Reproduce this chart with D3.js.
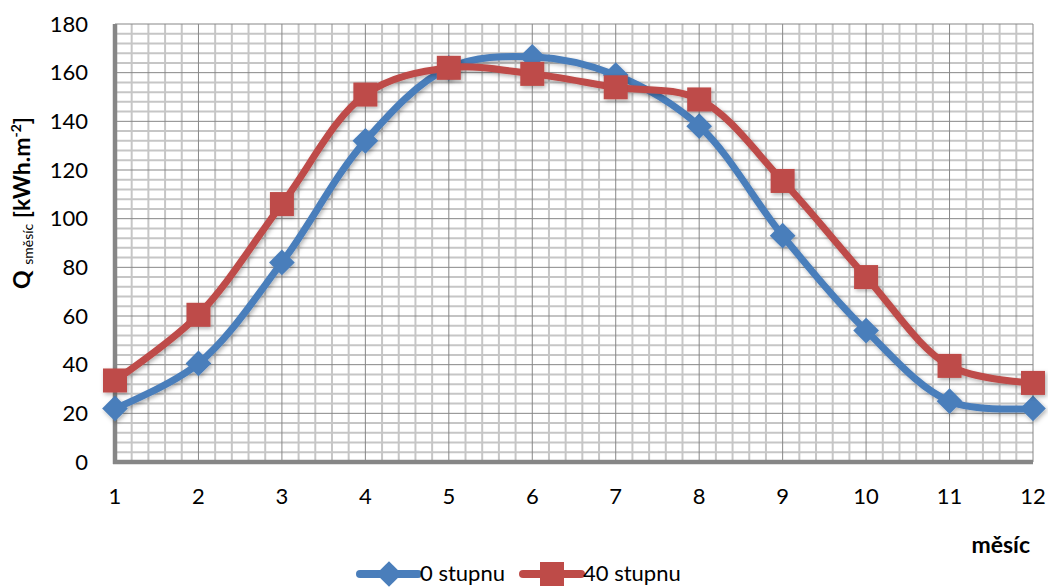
<!DOCTYPE html>
<html>
<head>
<meta charset="utf-8">
<script src="https://cdn.jsdelivr.net/npm/d3@7"></script>
<style>
  body { margin: 0; background: #fff; }
  text { font-family: Lato, "Open Sans", sans-serif; fill: #000; }
</style>
</head>
<body>
<script>
var months = [1, 2, 3, 4, 5, 6, 7, 8, 9, 10, 11, 12];
var stupnu0 = [22, 40.5, 82, 132, 162, 166.5, 159, 138, 93, 54, 25, 22];
var stupnu40 = [33.5, 60.5, 106, 151, 162, 159.5, 154, 149, 115.5, 76, 39.5, 32.5];
var yTicks = [0, 20, 40, 60, 80, 100, 120, 140, 160, 180];

var width = 1048, height = 587;
var svg = d3.select("body").append("svg")
  .attr("width", width)
  .attr("height", height);

var defs = svg.append("defs");
var f = defs.append("filter").attr("id", "shadow")
  .attr("x", "-20%").attr("y", "-20%").attr("width", "140%").attr("height", "140%");
f.append("feDropShadow").attr("dx", 1.5).attr("dy", 2).attr("stdDeviation", 2)
  .attr("flood-color", "#000").attr("flood-opacity", 0.3);

var x = d3.scaleLinear().domain([1, 12]).range([115, 1033]);
var y = d3.scaleLinear().domain([0, 180]).range([462, 24]);

var grid = svg.append("g").attr("class", "grid");

// minor grid
d3.range(0, 180.01, 4).forEach(function(v) {
  if (v % 20 == 0) return;
  grid.append("line")
    .attr("x1", x(1)).attr("x2", x(12))
    .attr("y1", y(v)).attr("y2", y(v))
    .attr("stroke", "#c6c6c6").attr("stroke-width", 2);
});
d3.range(1, 12.001, 0.2).forEach(function(v) {
  if (Math.abs(v - Math.round(v)) < 0.01) return;
  grid.append("line")
    .attr("x1", x(v)).attr("x2", x(v))
    .attr("y1", y(0)).attr("y2", y(180))
    .attr("stroke", "#c6c6c6").attr("stroke-width", 2);
});
// major grid
yTicks.forEach(function(v) {
  grid.append("line")
    .attr("x1", x(1)).attr("x2", x(12))
    .attr("y1", y(v)).attr("y2", y(v))
    .attr("stroke", "#878787").attr("stroke-width", 1);
});
months.forEach(function(v) {
  grid.append("line")
    .attr("x1", x(v)).attr("x2", x(v))
    .attr("y1", y(0)).attr("y2", y(180))
    .attr("stroke", "#878787").attr("stroke-width", 1);
});

// axes lines (thick gray)
svg.append("line")
  .attr("x1", x(1)).attr("x2", x(1))
  .attr("y1", y(180)).attr("y2", y(0) + 2)
  .attr("stroke", "#868686").attr("stroke-width", 4.5);
svg.append("line")
  .attr("x1", x(1) - 2).attr("x2", x(12))
  .attr("y1", y(0)).attr("y2", y(0))
  .attr("stroke", "#868686").attr("stroke-width", 4.5);

// tick labels
svg.append("g").selectAll("text")
  .data(yTicks)
  .enter().append("text")
    .attr("x", 88)
    .attr("y", function(d) { return y(d); })
    .attr("dy", "0.35em")
    .attr("text-anchor", "end")
    .style("font-size", "22px")
    .text(function(d) { return d; });

svg.append("g").selectAll("text")
  .data(months)
  .enter().append("text")
    .attr("x", function(d) { return x(d); })
    .attr("y", 496)
    .attr("dy", "0.35em")
    .attr("text-anchor", "middle")
    .style("font-size", "22px")
    .text(function(d) { return d; });

// axis titles
svg.append("text")
  .attr("x", 1030).attr("y", 545)
  .attr("dy", "0.35em")
  .attr("text-anchor", "end")
  .style("font-size", "23px").style("font-weight", "bold")
  .text("měsíc");

var yt = svg.append("text")
  .attr("transform", "translate(30,203) rotate(-90)")
  .attr("text-anchor", "middle")
  .style("font-size", "23px").style("font-weight", "bold");
yt.append("tspan").text("Q ");
yt.append("tspan").style("font-size", "14px").style("font-weight", "normal").attr("dy", 3).text("směsíc");
yt.append("tspan").attr("dy", -3).text(" [kWh.m");
yt.append("tspan").style("font-size", "14px").attr("dy", -9).text("-2");
yt.append("tspan").attr("dy", 9).text("]");

var line = d3.line()
  .x(function(d) { return x(d[0]); })
  .y(function(d) { return y(d[1]); })
  .curve(d3.curveCatmullRom.alpha(0.5));

var series = [
  { name: "0 stupnu", values: stupnu0, color: "#4a7ebb", marker: "diamond" },
  { name: "40 stupnu", values: stupnu40, color: "#be4b48", marker: "square" }
];

function marker(g, type, color, cx, cy) {
  if (type == "diamond") {
    g.append("path")
      .attr("d", d3.symbol().type(d3.symbolSquare).size(330)())
      .attr("transform", "translate(" + cx + "," + cy + ") rotate(45)")
      .attr("fill", color);
  } else {
    g.append("rect")
      .attr("x", cx - 12).attr("y", cy - 12)
      .attr("width", 24).attr("height", 24)
      .attr("fill", color);
  }
}

series.forEach(function(s) {
  var pts = months.map(function(m, i) { return [m, s.values[i]]; });
  var g = svg.append("g").attr("filter", "url(#shadow)");
  g.append("path")
    .attr("d", line(pts))
    .attr("fill", "none")
    .attr("stroke", s.color)
    .attr("stroke-width", 7)
    .attr("stroke-linecap", "round");
  pts.forEach(function(p) {
    marker(g, s.marker, s.color, x(p[0]), y(p[1]));
  });
});

// legend
var legend = svg.append("g");
var lx = [360, 523];
series.forEach(function(s, i) {
  var g = legend.append("g");
  g.append("line")
    .attr("x1", lx[i]).attr("x2", lx[i] + 58)
    .attr("y1", 574).attr("y2", 574)
    .attr("stroke", s.color).attr("stroke-width", 8)
    .attr("stroke-linecap", "round");
  marker(g, s.marker, s.color, lx[i] + 29, 574);
  g.append("text")
    .attr("x", lx[i] + 60).attr("y", 574)
    .attr("dy", "0.3em")
    .style("font-size", "22px")
    .text(s.name);
});
</script>
</body>
</html>
